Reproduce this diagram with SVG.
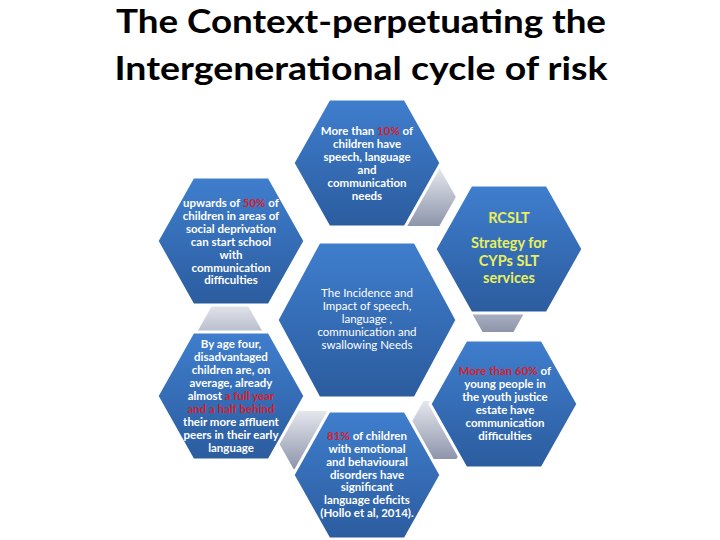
<svg xmlns="http://www.w3.org/2000/svg" width="720" height="540" viewBox="0 0 720 540">
<defs>
<linearGradient id="blue" x1="0" y1="0" x2="0" y2="1">
<stop offset="0" stop-color="#3f7ece"/>
<stop offset="1" stop-color="#2b5c9e"/>
</linearGradient>
<linearGradient id="gray" x1="0" y1="0" x2="0" y2="1">
<stop offset="0" stop-color="#e6e8ee"/>
<stop offset="1" stop-color="#8c94aa"/>
</linearGradient>
<style>
.hex{fill:url(#blue);stroke:#ffffff;stroke-width:3;stroke-linejoin:miter}
.ghex{fill:url(#gray);stroke:#ffffff;stroke-width:2}
.t{font-family:Lato,"Liberation Sans",sans-serif;font-size:11.5px;font-weight:700;fill:#ffffff;text-anchor:middle}
.c{font-family:Lato,"Liberation Sans",sans-serif;font-size:11.5px;font-weight:400;fill:#ffffff;text-anchor:middle}
.y{font-family:Lato,"Liberation Sans",sans-serif;font-size:14.5px;font-weight:700;fill:#e9f05c;text-anchor:middle}
.r{fill:#d9202c}
.title{font-family:Lato,"Liberation Sans",sans-serif;font-size:32px;font-weight:700;fill:#000000;text-anchor:middle}
</style>
</defs>
<rect width="720" height="540" fill="#ffffff"/>
<text class="title" x="361" y="33" textLength="490" lengthAdjust="spacingAndGlyphs">The Context-perpetuating the</text>
<text class="title" x="361" y="80" textLength="493" lengthAdjust="spacingAndGlyphs">Intergenerational cycle of risk</text>

<g id="connectors">
<polygon class="ghex" points="406,167 440,167 457,197 440,227 406,227 389,197"/>
<polygon class="ghex" points="482,273 514,273 531,303 514,333 482,333 465,303"/>
<polygon class="ghex" points="423,400 457,400 474,430 457,460 423,460 406,430"/>
<polygon class="ghex" points="293,410 327,410 344,440 327,470 293,470 276,440"/>
<polygon class="ghex" points="213,302 247,302 264,332 247,362 213,362 196,332"/>
</g>

<g id="node-center">
<polygon class="hex" points="319,242 415,242 457,320 415,398 319,398 277,320"/>
<text class="c" x="367" y="297">The Incidence and</text>
<text class="c" x="367" y="310">Impact of speech,</text>
<text class="c" x="367" y="323">language ,</text>
<text class="c" x="367" y="336">communication and</text>
<text class="c" x="367" y="349">swallowing Needs</text>
</g>

<g id="node-top">
<polygon class="hex" points="329,99 405,99 441,163 405,227 329,227 293,163"/>
<text class="t" x="367" y="135">More than <tspan class="r">10%</tspan> of</text>
<text class="t" x="367" y="148">children have</text>
<text class="t" x="367" y="161">speech, language</text>
<text class="t" x="367" y="174">and</text>
<text class="t" x="367" y="187">communication</text>
<text class="t" x="367" y="200">needs</text>
</g>

<g id="node-top-left">
<polygon class="hex" points="193,177 269,177 305,241 269,305 193,305 157,241"/>
<text class="t" x="231" y="207">upwards of <tspan class="r">50%</tspan> of</text>
<text class="t" x="231" y="220">children in areas of</text>
<text class="t" x="231" y="233">social deprivation</text>
<text class="t" x="231" y="246">can start school</text>
<text class="t" x="231" y="259">with</text>
<text class="t" x="231" y="272">communication</text>
<text class="t" x="231" y="284">difficulties</text>
</g>

<g id="node-bottom-left">
<polygon class="hex" points="193,332 269,332 305,396 269,460 193,460 157,396"/>
<text class="t" x="231" y="348">By age four,</text>
<text class="t" x="231" y="361">disadvantaged</text>
<text class="t" x="231" y="374">children are, on</text>
<text class="t" x="231" y="387">average, already</text>
<text class="t" x="231" y="400">almost <tspan class="r">a full year</tspan></text>
<text class="t r" x="231" y="413">and a half behind</text>
<text class="t" x="231" y="426">their more affluent</text>
<text class="t" x="231" y="439">peers in their early</text>
<text class="t" x="231" y="452">language</text>
</g>

<g id="node-top-right">
<polygon class="hex" points="471,185 547,185 583,249 547,313 471,313 435,249"/>
<text class="y" x="509" y="223">RCSLT</text>
<text class="y" x="509" y="248">Strategy for</text>
<text class="y" x="509" y="266">CYPs SLT</text>
<text class="y" x="509" y="283">services</text>
</g>

<g id="node-bottom-right">
<polygon class="hex" points="466,340 542,340 578,404 542,468 466,468 430,404"/>
<text class="t" x="505" y="375"><tspan class="r">More than 60%</tspan> of</text>
<text class="t" x="505" y="388">young people in</text>
<text class="t" x="505" y="401">the youth justice</text>
<text class="t" x="505" y="414">estate have</text>
<text class="t" x="505" y="427">communication</text>
<text class="t" x="505" y="440">difficulties</text>
</g>

<g id="node-bottom">
<polygon class="hex" points="329,411 405,411 441,475 405,539 329,539 293,475"/>
<text class="t" x="367" y="440"><tspan class="r">81%</tspan> of children</text>
<text class="t" x="367" y="453">with emotional</text>
<text class="t" x="367" y="466">and behavioural</text>
<text class="t" x="367" y="479">disorders have</text>
<text class="t" x="367" y="491">significant</text>
<text class="t" x="367" y="504">language deficits</text>
<text class="t" x="367" y="517">(Hollo et al, 2014).</text>
</g>
</svg>
